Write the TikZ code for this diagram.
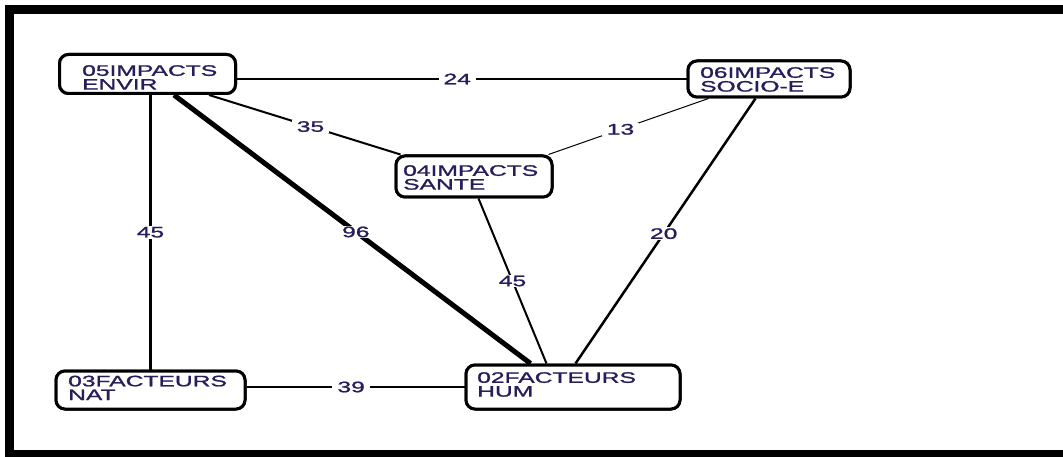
\documentclass[tikz,border=0pt]{standalone}
\usepackage{fontspec}
\setmainfont[FakeStretch=1.62,FakeBold=1.3]{Liberation Sans}
\usetikzlibrary{calc}
\definecolor{txt}{RGB}{38,30,90}
\begin{document}
\begin{tikzpicture}[x=1pt,y=-1pt,
  box/.style={draw=black, line width=3pt, rounded corners=9pt, inner sep=0pt, fill=white},
  btxt/.style={anchor=north west, inner sep=0pt, align=left, text=txt, font=\fontsize{15.2}{13.8}\selectfont},
  edge/.style={draw=black, line width=2pt},
  lbl/.style={fill=white, text=txt, inner xsep=5pt, inner ysep=1pt, font=\fontsize{15.2}{14}\selectfont}]
\useasboundingbox (0,0) rectangle (1063,457);
\fill[white] (0,0) rectangle (1063,457);
% frame
\fill[black] (5,5) rectangle (1063,14);
\fill[black] (5,5) rectangle (14,457);
\fill[black] (5,450) rectangle (1063,457);
% boxes
\node[box, minimum width=176, minimum height=39] (n05) at (147.5,74) {};
\node[box, minimum width=156, minimum height=41] (n04) at (474,176.5) {};
\node[box, minimum width=162, minimum height=36] (n06) at (769,79) {};
\node[box, minimum width=189, minimum height=38] (n03) at (150.5,390) {};
\node[box, minimum width=214, minimum height=44] (n02) at (573,387) {};
% edges
\draw[edge] (n05.east |- n06.west) -- (n06.west) node[lbl, pos=0.49] (l24) {24};
\draw[edge, line width=2.5pt] (n03.north |- n05.south) -- (n03.north) node[lbl, pos=0.5] (l45a) {45};
\draw[edge] ($(n05.south east)+(-28,0)$) -- ($(n04.north west)+(6,0)$) node[lbl, pos=0.53] (l35) {35};
\draw[edge, line width=5pt] ($(n05.south west)+(116,0)$) -- ($(n02.north west)+(66,0)$) node[lbl, pos=0.51] (l96) {96};
\draw[edge, line width=1pt] ($(n06.south west)+(22,0)$) -- ($(n04.north east)+(-5,0)$) node[lbl, pos=0.55] (l13) {13};
\draw[edge, line width=2.5pt] ($(n06.south west)+(69,0)$) -- ($(n02.north west)+(111,0)$) node[lbl, pos=0.51] (l20) {20};
\draw[edge] ($(n04.south west)+(84,0)$) -- ($(n02.north west)+(82,0)$) node[lbl, pos=0.5] (l45b) {45};
\draw[edge] (n03.east |- n02.west) -- (n02.west) node[lbl, pos=0.48] (l39) {39};
% redraw boxes on top
\node[box, minimum width=176, minimum height=39] at (n05) {};
\node[box, minimum width=156, minimum height=41] at (n04) {};
\node[box, minimum width=162, minimum height=36] at (n06) {};
\node[box, minimum width=189, minimum height=38] at (n03) {};
\node[box, minimum width=214, minimum height=44] at (n02) {};
% texts
\node[btxt] (t05) at (82,65) {05IMPACTS\\ENVIR};
\node[btxt] (t04) at (403,165) {04IMPACTS\\SANTE};
\node[btxt] (t06) at (700,67) {06IMPACTS\\SOCIO-E};
\node[btxt] (t03) at (68,375.5) {03FACTEURS\\NAT};
\node[btxt] (t02) at (477,372) {02FACTEURS\\HUM};
\end{tikzpicture}
\end{document}
